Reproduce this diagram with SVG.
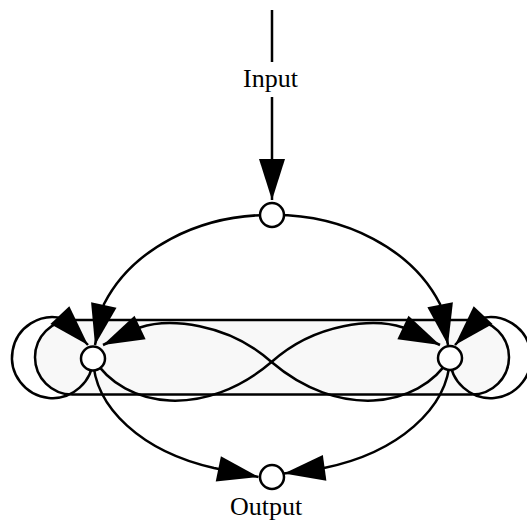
<svg xmlns="http://www.w3.org/2000/svg" width="527" height="521" viewBox="0 0 527 521">
  <style>
    .edge { fill: none; stroke: #000; stroke-width: 2.5; marker-end: url(#head); }
    .node { fill: #fff; stroke: #000; stroke-width: 2.5; }
    .label { font-family: "Liberation Serif", "Times New Roman", serif; font-size: 26px; fill: #000; text-anchor: middle; }
    .band { fill: #f8f8f8; stroke: #000; stroke-width: 2.5; }
  </style>
  <defs>
    <marker id="head" markerUnits="userSpaceOnUse" viewBox="-42 -14 44 28" markerWidth="44" markerHeight="28" refX="0" refY="0" orient="auto">
      <path d="M0,0 L-41,-13 L-41,13 Z" fill="#000"/>
    </marker>
  </defs>

  <!-- shaded band holding the two middle nodes -->
  <rect class="band" x="35" y="320" width="474" height="74.5" rx="37.25" ry="37.25"/>

  <g id="connectors">
    <!-- input feed -->
    <path class="edge" d="M272,10 V62 M272,97 V200"/>
    <!-- split from the top node -->
    <path class="edge" d="M272,215 A179,143 0 0 0 104,304 L95,345"/>
    <path class="edge" d="M272,215 A179,143 0 0 1 440,304 L448,345"/>
    <!-- crossing links between left and right -->
    <path class="edge" d="M93,358 C125,410 206,418 271.5,362 C316,322 375,318 403,327.5 L440,345"/>
    <path class="edge" d="M450,358 C418,410 337,418 271.5,362 C227,322 168,318 140,327.5 L103,345"/>
    <!-- self loops -->
    <path class="edge" d="M93,358 A40.5,40.5 0 1 1 63,318.5 L88,345"/>
    <path class="edge" d="M450,358 A40.5,40.5 0 1 0 480,318.5 L455,345"/>
    <!-- merge into the output node -->
    <path class="edge" d="M93,358 A179,118 0 0 0 214,468 L258.5,477"/>
    <path class="edge" d="M450,358 A179,118 0 0 1 324,468 L284,473.5"/>
  </g>

  <text class="label" x="270.5" y="87">Input</text>

  <g id="node-top"><circle class="node" cx="272" cy="215" r="12"/></g>
  <g id="node-left"><circle class="node" cx="93" cy="358.5" r="12"/></g>
  <g id="node-right"><circle class="node" cx="450" cy="358" r="12"/></g>
  <g id="node-output">
    <circle class="node" cx="272" cy="477" r="12"/>
    <text class="label" x="266" y="515">Output</text>
  </g>
</svg>
